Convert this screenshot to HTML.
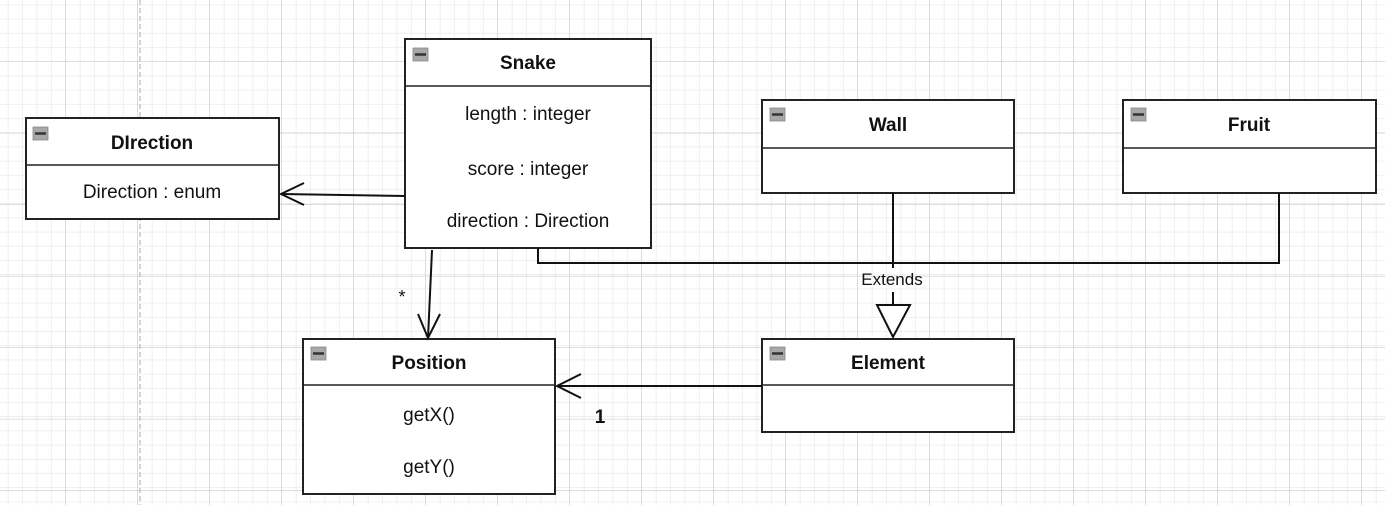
<!DOCTYPE html>
<html><head><meta charset="utf-8"><style>
body{margin:0;width:1385px;height:505px;overflow:hidden;background:#fff}
svg text{font-family:"Liberation Sans",sans-serif}
</style></head><body>
<svg width="1385" height="505" xmlns="http://www.w3.org/2000/svg">
<defs>
<pattern id="minor" width="14.4" height="14.2" patternUnits="userSpaceOnUse" x="-6" y="-9">
<path d="M14.4 0V14.2M0 14.2H14.4" stroke="#e6e6e6" stroke-width="1.2" fill="none"/>
</pattern>
<pattern id="major" width="72" height="71.5" patternUnits="userSpaceOnUse" x="-6" y="-9.5">
<path d="M72 0V71.5M0 71.5H72" stroke="#d2d2d2" stroke-width="1.5" fill="none"/>
</pattern>
</defs>
<rect width="1385" height="505" fill="url(#minor)"/>
<rect width="1385" height="505" fill="url(#major)"/>
<line x1="140" y1="0" x2="140" y2="505" stroke="#bdbdbd" stroke-width="1.3" stroke-dasharray="5,3"/>
<g stroke="#222" stroke-width="2" fill="#fff">
<rect x="26" y="118" width="253" height="101"/><line x1="26" y1="165" x2="279" y2="165" stroke-width="1.5"/>
<rect x="405" y="39" width="246" height="209"/><line x1="405" y1="86" x2="651" y2="86" stroke-width="1.5"/>
<rect x="762" y="100" width="252" height="93"/><line x1="762" y1="148" x2="1014" y2="148" stroke-width="1.5"/>
<rect x="1123" y="100" width="253" height="93"/><line x1="1123" y1="148" x2="1376" y2="148" stroke-width="1.5"/>
<rect x="303" y="339" width="252" height="155"/><line x1="303" y1="385" x2="555" y2="385" stroke-width="1.5"/>
<rect x="762" y="339" width="252" height="93"/><line x1="762" y1="385" x2="1014" y2="385" stroke-width="1.5"/>
</g>
<g fill="#a8a8a8" stroke="#888" stroke-width="0.8">
<rect x="33" y="127" width="15" height="13"/><rect x="413" y="48" width="15" height="13"/>
<rect x="770" y="108" width="15" height="13"/><rect x="1131" y="108" width="15" height="13"/>
<rect x="311" y="347" width="15" height="13"/><rect x="770" y="347" width="15" height="13"/>
</g>
<g stroke="#333" stroke-width="2.5">
<line x1="35" y1="133.5" x2="46" y2="133.5"/><line x1="415" y1="54.5" x2="426" y2="54.5"/>
<line x1="772" y1="114.5" x2="783" y2="114.5"/><line x1="1133" y1="114.5" x2="1144" y2="114.5"/>
<line x1="313" y1="353.5" x2="324" y2="353.5"/><line x1="772" y1="353.5" x2="783" y2="353.5"/>
</g>
<g stroke="#111" stroke-width="2" fill="none">
<line x1="405" y1="196" x2="281" y2="194"/><path d="M304 183L281 194L304 205"/>
<line x1="432" y1="250" x2="428" y2="338"/><path d="M418 314L428 338L440 314"/>
<line x1="762" y1="386" x2="557" y2="386"/><path d="M581 374L557 386L581 398"/>
<line x1="893" y1="193" x2="893" y2="268"/><line x1="893" y1="292" x2="893" y2="305"/>
<path d="M877 305L910 305L893 337Z" fill="#fff"/>
<path d="M538 248V263H1279V193"/>
</g>
<g font-size="19" fill="#111" text-anchor="middle">
<text x="152" y="149" font-weight="bold">DIrection</text>
<text x="152" y="198">Direction : enum</text>
<text x="528" y="69" font-weight="bold">Snake</text>
<text x="528" y="120">length : integer</text>
<text x="528" y="175">score : integer</text>
<text x="528" y="227">direction : Direction</text>
<text x="888" y="131" font-weight="bold">Wall</text>
<text x="1249" y="131" font-weight="bold">Fruit</text>
<text x="429" y="369" font-weight="bold">Position</text>
<text x="429" y="421">getX()</text>
<text x="429" y="473">getY()</text>
<text x="888" y="369" font-weight="bold">Element</text>
<text x="892" y="285" font-size="17">Extends</text>
<text x="402" y="303" font-size="18">*</text>
<text x="600" y="423" font-weight="bold">1</text>
</g>
</svg>
</body></html>
